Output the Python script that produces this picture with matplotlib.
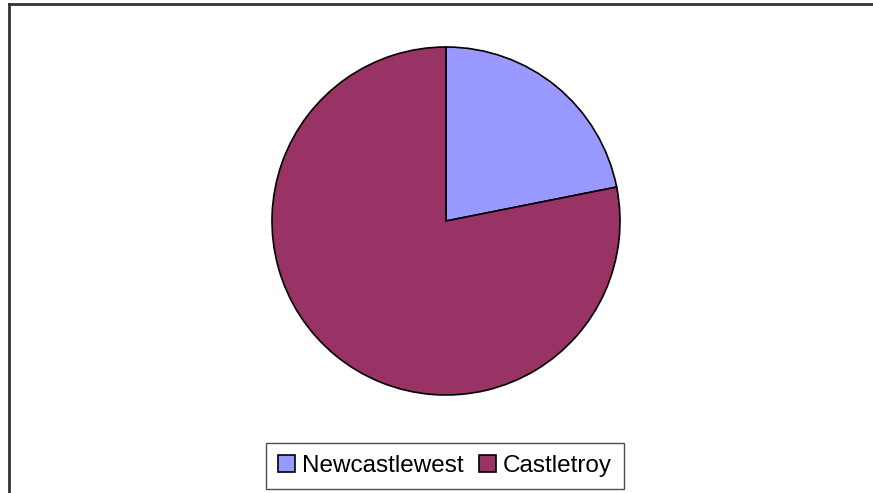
import matplotlib.pyplot as plt
from matplotlib.patches import Patch
from matplotlib.lines import Line2D

plt.rcParams['font.family'] = ['Liberation Sans', 'DejaVu Sans']

# share of students by campus
campuses = ['Newcastlewest', 'Castletroy']
students = [7, 25]
colours = ['#9999FF', '#993366']

W, H = 873, 493
fig = plt.figure(figsize=(W / 100, H / 100), dpi=100)

# pie centred at (446, 221) px, radius 174 px
cx, cy, r = 446, 221, 174
ax = fig.add_axes([(cx - r) / W, (H - cy - r) / H, 2 * r / W, 2 * r / H])
ax.pie(students, colors=colours, startangle=90, counterclock=False,
       wedgeprops=dict(edgecolor='black', linewidth=1.2))
ax.set_aspect('equal')
ax.set_xlim(-1.0, 1.0)
ax.set_ylim(-1.0, 1.0)

# chart area border (runs off the right and bottom edges)
fig.add_artist(Line2D([8.5 / W, 8.5 / W], [0, 1 - 4 / H], transform=fig.transFigure,
                      color='#333333', linewidth=2))
fig.add_artist(Line2D([8.5 / W, 1], [1 - 4 / H, 1 - 4 / H], transform=fig.transFigure,
                      color='#333333', linewidth=2))

handles = [Patch(facecolor=c, edgecolor='black', linewidth=1.2) for c in colours]
leg = fig.legend(handles, campuses, loc='center', bbox_to_anchor=(445 / W, 1 - 466 / H),
                 ncol=2, fontsize=17.5, frameon=True, fancybox=False,
                 handlelength=0.7, handleheight=0.7, handletextpad=0.3,
                 columnspacing=0.6, borderpad=0.5, borderaxespad=0)
leg.get_frame().set_edgecolor('#222222')
leg.get_frame().set_linewidth(1)

fig.savefig('out.png', dpi=100)
